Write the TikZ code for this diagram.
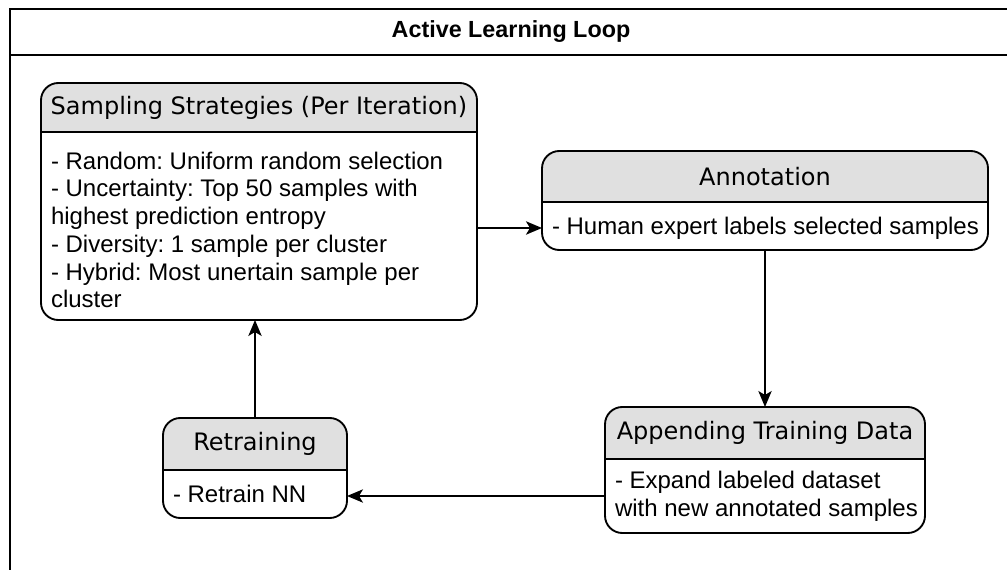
\documentclass[tikz,border=0pt]{standalone}
\usepackage{fontspec}
\setmainfont{Liberation Sans}
\newfontfamily\headfont{DejaVu Sans}
\usepackage{xcolor}
\usetikzlibrary{positioning,arrows.meta}
\definecolor{hdrgray}{HTML}{E0E0E0}
\frenchspacing

\begin{document}
\begin{tikzpicture}[x=0.75pt, y=-0.75pt, >={Stealth[length=12pt, width=10pt, inset=3pt]}, every node/.style={inner sep=0pt, outer sep=0pt}]
  \tikzstyle{box}=[rectangle, fill=white]
  \tikzstyle{edge}=[line width=1.4pt, rounded corners=13pt]
  \tikzstyle{hd}=[font=\headfont\fontsize{18}{21}\selectfont]
  \tikzstyle{bd}=[font=\fontsize{18}{20.8}\selectfont, align=left, anchor=west]
  \tikzstyle{link}=[->, line width=1.1pt]
  \useasboundingbox (0,0) rectangle (1007,570);
  % outer frame with title bar
  \draw[line width=1.4pt] (10,600) -- (10,9) -- (1030,9) (10,55) -- (1030,55);
  \node[font=\bfseries\fontsize{17.5}{20}\selectfont] (title) at (511,32) {Active Learning Loop};
  % boxes
  \node[box, minimum width=327pt, minimum height=177.75pt] (samp) at (259,201.5) {};
  \node[box, minimum width=334.5pt, minimum height=74.25pt] (annot) at (765,200.5) {};
  \node[box, minimum width=240pt, minimum height=94.5pt] (app) at (765,470) {};
  \node[box, minimum width=138pt, minimum height=75pt] (retr) at (255,468) {};
  % grey headers, separators and outlines
  \foreach \b/\s in {samp/132, annot/202, app/459, retr/470} {
    \coordinate (sep\b) at (0,\s);
    \begin{scope}
      \clip (\b.north west) rectangle (\b.east |- sep\b);
      \fill[hdrgray, rounded corners=13pt] (\b.north west) rectangle (\b.south east);
    \end{scope}
    \draw[line width=1.4pt] (\b.west |- sep\b) -- (\b.east |- sep\b);
    \draw[edge] (\b.north west) rectangle (\b.south east);
  }
  % titles
  \node[hd] (samphead) at (259,107.5) {Sampling Strategies (Per Iteration)};
  \node[hd] (annothead) at (765,176.5) {Annotation};
  \node[hd] (apphead) at (765,433) {Appending Training Data};
  \node[hd] (retrhead) at (255,444) {Retraining};
  % contents
  \node[bd] (sampbody) at (51,230) {- Random: Uniform random selection\\- Uncertainty: Top 50 samples with\\highest prediction entropy\\- Diversity: 1 sample per cluster\\- Hybrid: Most unertain sample per\\cluster};
  \node[bd] (annotbody) at (552,228) {- Human expert labels selected samples};
  \node[bd] (appbody) at (615,496) {- Expand labeled dataset\\with new annotated samples};
  \node[bd] (retrbody) at (173,494) {- Retrain NN};
  % loop
  \draw[link, line width=1.6pt] (samp.east |- annotbody) -- (annot.west |- annotbody);
  \draw[link] (annot.south) -- (app.north);
  \draw[link] (app.west |- appbody) -- (retr.east |- appbody);
  \draw[link] (retr.north) -- (retr.north |- samp.south);
\end{tikzpicture}
\end{document}
